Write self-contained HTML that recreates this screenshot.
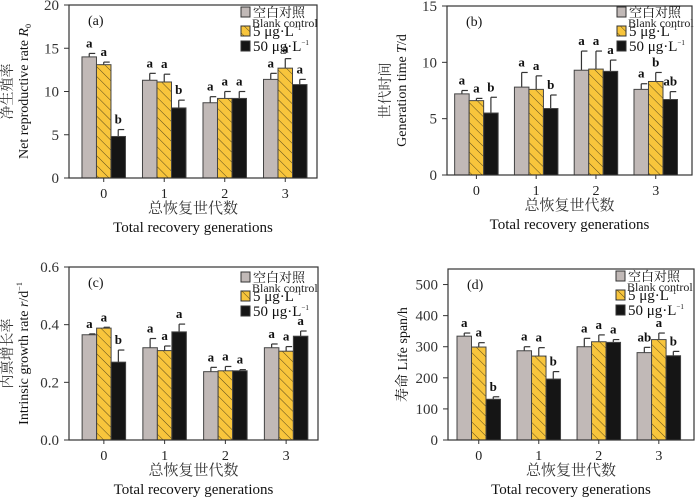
<!DOCTYPE html>
<html><head><meta charset="utf-8"><style>
body{margin:0;background:#fff;}
svg{display:block;font-family:"Liberation Serif","Noto Serif CJK SC",serif;}
</style></head><body>
<svg id="chart" width="700" height="499" viewBox="0 0 700 499" xmlns="http://www.w3.org/2000/svg">
<defs>
<pattern id="hatch" patternUnits="userSpaceOnUse" width="7" height="7" patternTransform="rotate(-45)">
<rect width="7" height="7" fill="#f8c53c"/><line x1="0" y1="0" x2="0" y2="7" stroke="#5a4a1a" stroke-width="1"/>
</pattern>
</defs>
</svg>
<script>
const categories=["0","1","2","3"];
const seriesNames=["空白对照","5 μg·L","50 μg·L"];
// panel a
const aCtrl=[14.0,11.3,8.7,11.4], aCtrlErr=[0.4,0.8,0.7,0.7];
const a5=[13.1,11.1,9.2,12.7], a5Err=[0.3,0.9,0.8,1.1];
const a50=[4.8,8.1,9.2,10.8], a50Err=[0.8,0.9,0.8,0.6];
const aLetters=[["a","a","b"],["a","a","b"],["a","a","a"],["a","a","a"]];
const aTicks=[0,5,10,15,20];
// panel b
const bCtrl=[7.2,7.8,9.3,7.6], bCtrlErr=[0.3,1.3,1.7,0.5];
const b5=[6.6,7.6,9.4,8.3], b5Err=[0.2,1.2,1.6,0.8];
const b50=[5.5,5.9,9.2,6.7], b50Err=[1.4,1.2,1.0,0.7];
const bLetters=[["a","a","b"],["a","a","b"],["a","a","a"],["a","b","ab"]];
const bTicks=[0,5,10,15];
// panel c
const cCtrl=[0.365,0.32,0.237,0.32], cCtrlErr=[0.003,0.032,0.015,0.013];
const c5=[0.388,0.31,0.24,0.308], c5Err=[0.003,0.016,0.015,0.016];
const c50=[0.27,0.375,0.24,0.36], c50Err=[0.042,0.027,0.004,0.018];
const cLetters=[["a","a","b"],["a","a","a"],["a","a","a"],["a","a","a"]];
const cTicks=["0.0","0.2","0.4","0.6"];
// panel d
const dCtrl=[334,287,300,281], dCtrlErr=[10,13,27,17];
const d5=[299,270,316,323], d5Err=[14,27,22,21];
const d50=[131,196,314,271], d50Err=[8,24,9,14];
const dLetters=[["a","a","b"],["a","a","b"],["a","a","a"],["ab","a","b"]];
const dTicks=[0,100,200,300,400,500];

const svg=document.getElementById('chart');
const NS="http://www.w3.org/2000/svg";
function mk(tag,attrs,parent,text){const e=document.createElementNS(NS,tag);for(const k in attrs)e.setAttribute(k,attrs[k]);if(text!==undefined)e.textContent=text;(parent||svg).appendChild(e);return e;}

const fills=["#c1b9b7","url(#hatch)","#151515"];
function panel(p){
  const g=mk('g',{});
  
  
  const y=v=>p.B-(v-p.min)/(p.max-p.min)*(p.B-p.T);
  const x=i=>p.L+(p.R-p.L)*(p.off+i*0.244);
  const bw=14.5;
  const vals=[p.s[0],p.s[1],p.s[2]], errs=[p.e[0],p.e[1],p.e[2]];
  for(let i=0;i<categories.length;i++){
    for(let k=0;k<3;k++){
      const bx=x(i)+(k-1)*bw-bw/2, v=vals[k][i], top=y(v), et=y(v+errs[k][i]);
      const ex=bx+bw/2;
      const el=mk('line',{x1:ex,x2:ex,y1:top,y2:et,stroke:'#333','stroke-width':1.2},g);
      
      
      const cap=mk('line',{x1:ex,x2:ex+6,y1:et,y2:et,stroke:'#333','stroke-width':1.2},g);
      
      
      const r=mk('rect',{x:bx,y:top,width:bw,height:p.B-top,fill:fills[k],stroke:'#444','stroke-width':1},g);
      
      
      const t=mk('text',{x:ex,y:et-6,'text-anchor':'middle','font-size':13,'font-weight':'bold',fill:'#111'},g,p.letters[i][k]);
      
      
    }
    const tk=mk('line',{x1:x(i),x2:x(i),y1:p.B,y2:p.B+4,stroke:'#333'},g);
    
    
    const tl=mk('text',{x:x(i),y:p.B+20,'text-anchor':'middle','font-size':14,fill:'#222'},g,categories[i]);
    
    
  }
  const fr=mk('rect',{x:p.L,y:p.T,width:p.R-p.L,height:p.B-p.T,fill:'none',stroke:'#333','stroke-width':1.2},g);
  
  
  p.ticks.forEach(t=>{
    const v=parseFloat(t);
    const l=mk('line',{x1:p.L-5,x2:p.L,y1:y(v),y2:y(v),stroke:'#333'},g);
    
    
    const tx=mk('text',{x:p.L-10,y:y(v)+5,'text-anchor':'end','font-size':15,fill:'#333'},g,String(t));
    
    
  });
  const pl=mk('text',{x:p.L+19,y:p.T+20,'font-size':14,fill:'#111'},g,'('+p.id+')');
  
  
  const cy=(p.T+p.B)/2;
  const yc=mk('text',{x:0,y:0,transform:`translate(${p.L-57},${cy}) rotate(-90)`,'text-anchor':'middle','font-size':14,fill:'#333'},g,p.ycn_t);
  
  
  const ye=mk('text',{x:0,y:0,transform:`translate(${p.L-41},${cy}) rotate(-90)`,'text-anchor':'middle','font-size':14,fill:'#111'},g);
  ye.innerHTML=p.yen;
  
  
  const xm=(p.L+p.R)/2;
  const xc=mk('text',{x:xm,y:p.B+35,'text-anchor':'middle','font-size':15,fill:'#333'},g,'总恢复世代数');
  
  
  const xe=mk('text',{x:xm,y:p.B+54,'text-anchor':'middle','font-size':15,fill:'#111'},g,'Total recovery generations');
  
  
  const lg=mk('g',{},g);
  
  
  const rows=[p.ly,p.ly+19,p.ly+34];
  const labels=['空白对照','5 μg·L<tspan font-size="7" dy="-6">−1</tspan>','50 μg·L<tspan font-size="7" dy="-6">−1</tspan>'];
  for(let k=0;k<3;k++){
    const r=mk('rect',{x:p.lx,y:rows[k]-5,width:9,height:10,fill:fills[k],stroke:'#333'},lg);
    
    
    const t=mk('text',{x:p.lx+12,y:rows[k]+5,'font-size':k===0?13:15,fill:'#111'},lg);
    t.innerHTML=labels[k];
    
    
  }
  const bc=mk('text',{x:p.lx+11,y:rows[0]+15,'font-size':12,fill:'#222'},lg,'Blank control');
  
  
}
panel({id:'a',L:69,R:317,T:5,B:178,min:0,max:20,off:0.14,ticks:aTicks,s:[aCtrl,a5,a50],e:[aCtrlErr,a5Err,a50Err],letters:aLetters,ycn_t:'净生殖率',yen:'Net reproductive rate <tspan font-style="italic">R</tspan><tspan font-size="8" dy="3">0</tspan>',lx:241,ly:12});
panel({id:'b',L:447,R:692,T:6,B:175,min:0,max:15,off:0.12,ticks:bTicks,s:[bCtrl,b5,b50],e:[bCtrlErr,b5Err,b50Err],letters:bLetters,ycn_t:'世代时间',yen:'Generation time <tspan font-style="italic">T</tspan>/d',lx:617,ly:12});
panel({id:'c',L:69,R:318,T:267,B:440,min:0,max:0.6,off:0.14,ticks:cTicks,s:[cCtrl,c5,c50],e:[cCtrlErr,c5Err,c50Err],letters:cLetters,ycn_t:'内禀增长率',yen:'Intrinsic growth rate <tspan font-style="italic">r</tspan>/d<tspan font-size="8" dy="-6">−1</tspan>',lx:241,ly:277});
panel({id:'d',L:448,R:694,T:269,B:440,min:0,max:550,off:0.125,ticks:dTicks,s:[dCtrl,d5,d50],e:[dCtrlErr,d5Err,d50Err],letters:dLetters,ycn_t:'',yen:'寿命 Life span/h',lx:616,ly:276});
</script>
</body></html>
